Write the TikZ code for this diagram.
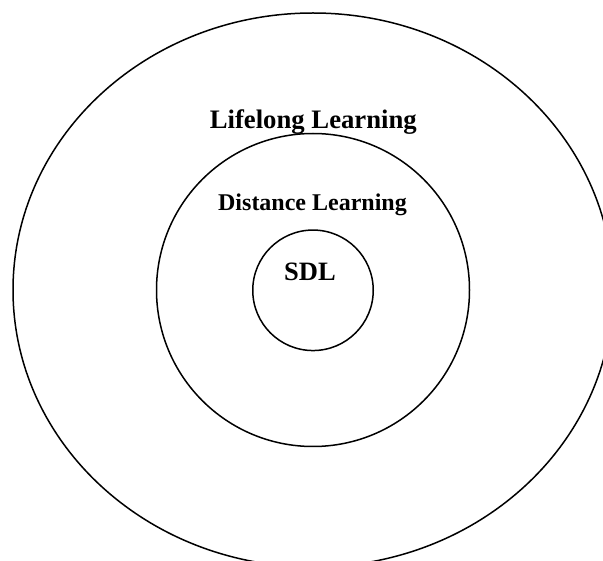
\documentclass[tikz,border=0pt]{standalone}
\usepackage{fontspec}
\setmainfont{Liberation Serif}
\usetikzlibrary{shapes.geometric}
\begin{document}
\begin{tikzpicture}[x=1pt,y=-1pt,
  ring/.style={draw=black,line width=1.5pt,inner sep=0pt,outer sep=0pt},
  lbl/.style={anchor=base,inner sep=0pt,font=\bfseries}]
\useasboundingbox (0,0) rectangle (603,561);
\clip (0,0) rectangle (603,561);
\node[ring,ellipse,minimum width=600,minimum height=554] (outer) at (313,290) {};
\node[ring,circle,minimum size=313] (mid) at (313,290) {};
\node[ring,circle,minimum size=120.5] (inner) at (313,290.3) {};
\node[lbl,font=\fontsize{26.7}{30}\selectfont\bfseries] (ll) at (313.3,128.3) {Lifelong Learning};
\node[lbl,font=\fontsize{24}{28}\selectfont\bfseries] (dl) at (312.5,211) {Distance Learning};
\node[lbl,font=\fontsize{26.5}{30}\selectfont\bfseries] (sdl) at (310,281) {SDL};
\end{tikzpicture}
\end{document}
